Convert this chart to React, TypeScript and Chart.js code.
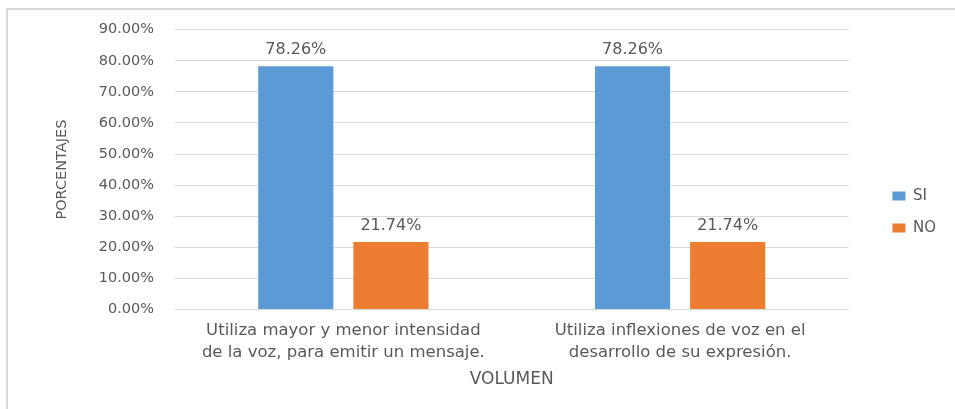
import React, { useEffect, useRef } from "react";
import { Chart, registerables } from "chart.js";

Chart.register(...registerables);

const categories: string[][] = [
  ["Utiliza mayor y menor intensidad", "de la voz, para emitir un mensaje."],
  ["Utiliza inflexiones de voz en el", "desarrollo de su expresión."],
];
const seriesNames = ["SI", "NO"];
const siValues = [78.26, 78.26];
const noValues = [21.74, 21.74];
const seriesColors = ["#5B9BD5", "#ED7D31"];
const yTicks = [0, 10, 20, 30, 40, 50, 60, 70, 80, 90];
const yTitle = "PORCENTAJES";
const xTitle = "VOLUMEN";

const TEXT = "#595959";
const GRID = "#d9d9d9";
const FONT = "'DejaVu Sans', sans-serif";

const valueLabels = {
  id: "valueLabels",
  afterDatasetsDraw(chart: any) {
    const ctx = chart.ctx;
    ctx.save();
    ctx.font = `16px ${FONT}`;
    ctx.fillStyle = TEXT;
    ctx.textAlign = "center";
    ctx.textBaseline = "alphabetic";
    chart.data.datasets.forEach((ds: any, di: number) => {
      const meta = chart.getDatasetMeta(di);
      meta.data.forEach((bar: any, i: number) => {
        const v = ds.data[i] as number;
        ctx.fillText(v.toFixed(2) + "%", bar.x, bar.y - 12);
      });
    });
    ctx.restore();
  },
};

export default function App() {
  const ref = useRef<HTMLCanvasElement | null>(null);
  useEffect(() => {
    if (!ref.current) return;
    const chart = new Chart(ref.current, {
      type: "bar",
      data: {
        labels: categories,
        datasets: [
          {
            label: seriesNames[0],
            data: siValues,
            backgroundColor: seriesColors[0],
            categoryPercentage: 0.565,
            barPercentage: 0.79,
          },
          {
            label: seriesNames[1],
            data: noValues,
            backgroundColor: seriesColors[1],
            categoryPercentage: 0.565,
            barPercentage: 0.79,
          },
        ],
      },
      options: {
        responsive: false,
        maintainAspectRatio: false,
        animation: false,
        devicePixelRatio: 1,
        layout: { padding: { top: 29, bottom: 14, left: 0, right: 9 } },
        plugins: {
          tooltip: { enabled: false },
          legend: {
            position: "right",
            labels: {
              boxWidth: 13,
              boxHeight: 9,
              padding: 17,
              color: TEXT,
              font: { family: FONT, size: 15 },
            },
          },
        },
        scales: {
          x: {
            grid: { display: false, drawTicks: false },
            border: { display: false },
            ticks: {
              color: TEXT,
              padding: 10,
              font: { family: FONT, size: 16.5, lineHeight: 1.33 },
              maxRotation: 0,
              autoSkip: false,
            },
            title: {
              display: true,
              text: xTitle,
              color: TEXT,
              font: { family: FONT, size: 17, lineHeight: 0.8 },
              padding: { top: -1, bottom: 9 },
            },
          },
          y: {
            min: 0,
            max: 90,
            afterBuildTicks: (scale: any) => {
              scale.ticks = yTicks.map((v) => ({ value: v }));
            },
            afterFit: (scale: any) => {
              scale.width = 175;
            },
            grid: { color: GRID, lineWidth: 1, drawTicks: false },
            border: { display: false },
            ticks: {
              color: TEXT,
              padding: 21,
              font: { family: FONT, size: 14.5 },
              callback: (v: any) => Number(v).toFixed(2) + "%",
            },
            title: {
              display: true,
              text: yTitle,
              color: TEXT,
              font: { family: FONT, size: 14.5, lineHeight: 1.2 },
              padding: { top: 54, bottom: 30 },
            },
          },
          yR: {
            position: "right",
            display: true,
            grid: { display: false, drawTicks: false },
            border: { display: false },
            ticks: { display: false },
            afterFit: (scale: any) => {
              scale.width = 27;
            },
          },
        },
      },
      plugins: [valueLabels],
    });
    return () => chart.destroy();
  }, []);

  return (
    <div
      style={{
        position: "fixed",
        left: 0,
        top: 0,
        width: 955,
        height: 409,
        overflow: "hidden",
        background: "#fff",
      }}
    >
      <div
        style={{
          position: "absolute",
          left: 6,
          top: 8,
          width: 949,
          height: 2,
          background: "#d9d9d9",
        }}
      />
      <div
        style={{
          position: "absolute",
          left: 6,
          top: 8,
          width: 2,
          height: 401,
          background: "#d9d9d9",
        }}
      />
      <canvas
        ref={ref}
        width={955}
        height={409}
        style={{ position: "absolute", left: 0, top: 0, width: 955, height: 409 }}
      />
    </div>
  );
}
